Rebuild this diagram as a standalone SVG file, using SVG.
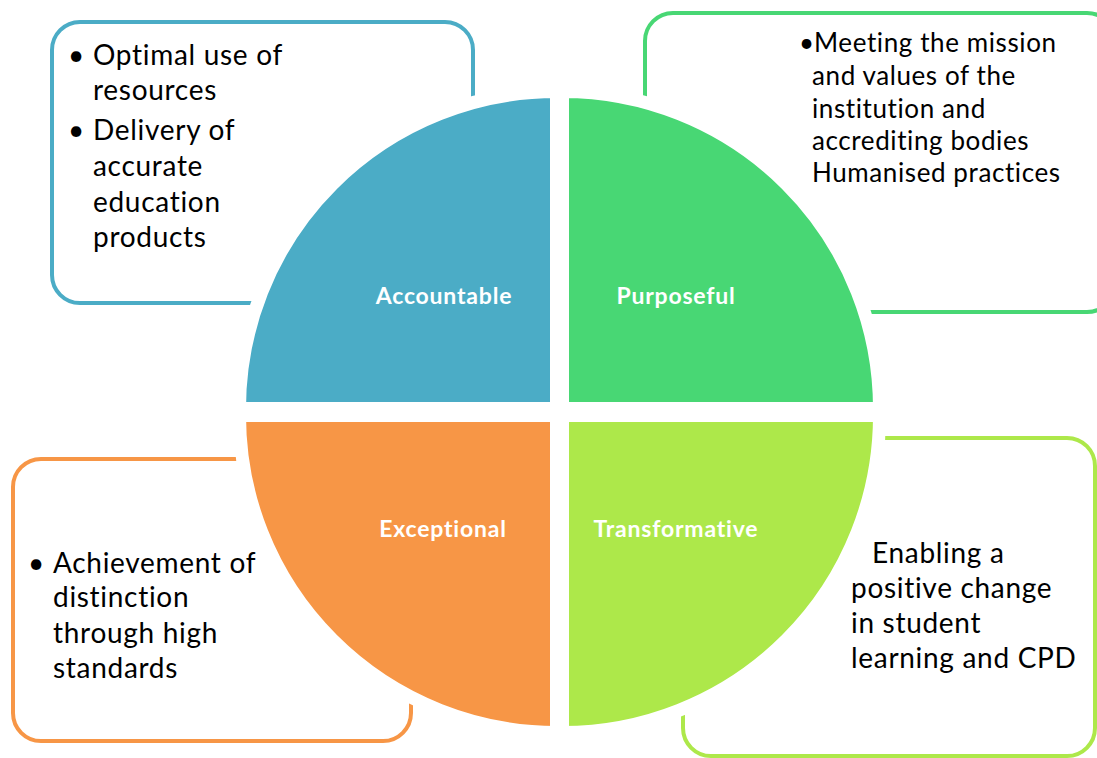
<svg xmlns="http://www.w3.org/2000/svg" width="1097" height="758" viewBox="0 0 1097 758">
  <style>
    .box { fill: #ffffff; stroke-width: 4; }
    .quad { stroke: #ffffff; stroke-width: 13; }
    .txt { font-family: Lato, "Liberation Sans", sans-serif; font-size: 28px; letter-spacing: 0.7px; fill: #000000; }
    .txt-s { font-family: Lato, "Liberation Sans", sans-serif; font-size: 26px; letter-spacing: 0.6px; fill: #000000; }
    .lbl { font-family: Lato, "Liberation Sans", sans-serif; font-size: 23px; letter-spacing: 0.8px; font-weight: bold; fill: #ffffff; text-anchor: middle; }
  </style>
  <rect width="1097" height="758" fill="#ffffff"/>

  <!-- description boxes -->
  <g id="box-accountable">
    <rect class="box" x="52" y="22" width="421" height="281" rx="28" stroke="#4BACC6"/>
    <text class="txt"><tspan x="68" y="65">•</tspan><tspan x="93" y="65">Optimal use of</tspan><tspan x="93" y="100">resources</tspan><tspan x="68" y="140">•</tspan><tspan x="93" y="140">Delivery of</tspan><tspan x="93" y="176">accurate</tspan><tspan x="93" y="212">education</tspan><tspan x="93" y="247">products</tspan></text>
  </g>
  <g id="box-purposeful">
    <rect class="box" x="645" y="13" width="470" height="299" rx="28" stroke="#48D774"/>
    <text class="txt-s"><tspan x="799" y="52">•</tspan><tspan x="814" y="52">Meeting the mission</tspan><tspan x="812" y="85">and values of the</tspan><tspan x="812" y="118">institution and</tspan><tspan x="812" y="150">accrediting bodies</tspan><tspan x="812" y="182">Humanised practices</tspan></text>
  </g>
  <g id="box-exceptional">
    <rect class="box" x="13" y="459" width="398" height="282" rx="28" stroke="#F79646"/>
    <text class="txt"><tspan x="28" y="573">•</tspan><tspan x="53" y="573">Achievement of</tspan><tspan x="53" y="607">distinction</tspan><tspan x="53" y="643">through high</tspan><tspan x="53" y="678">standards</tspan></text>
  </g>
  <g id="box-transformative">
    <rect class="box" x="683" y="438" width="412" height="318" rx="28" stroke="#ADE84A"/>
    <text class="txt"><tspan x="872" y="563">Enabling a</tspan><tspan x="851" y="598">positive change</tspan><tspan x="851" y="633">in student</tspan><tspan x="851" y="668">learning and CPD</tspan></text>
  </g>

  <!-- four quadrants of the central circle -->
  <g id="quad-accountable">
    <path class="quad" fill="#4BACC6" d="M556.5,408.5 L239.5,408.5 A317,317 0 0 1 556.5,91.5 Z"/>
    <text class="lbl" x="444" y="304">Accountable</text>
  </g>
  <g id="quad-purposeful">
    <path class="quad" fill="#48D774" d="M562.5,408.5 L562.5,91.5 A317,317 0 0 1 879.5,408.5 Z"/>
    <text class="lbl" x="676" y="304">Purposeful</text>
  </g>
  <g id="quad-exceptional">
    <path class="quad" fill="#F79646" d="M556.5,415.5 L556.5,732.5 A317,317 0 0 1 239.5,415.5 Z"/>
    <text class="lbl" x="443" y="537">Exceptional</text>
  </g>
  <g id="quad-transformative">
    <path class="quad" fill="#ADE84A" d="M562.5,415.5 L879.5,415.5 A317,317 0 0 1 562.5,732.5 Z"/>
    <text class="lbl" x="676" y="537">Transformative</text>
  </g>

  <g id="connectors"/>
</svg>
